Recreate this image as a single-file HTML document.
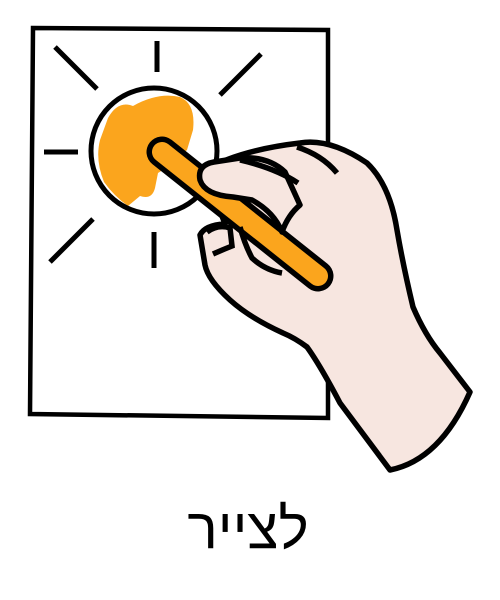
<!DOCTYPE html>
<html><head><meta charset="utf-8"><style>
html,body{margin:0;padding:0;background:#fff;width:500px;height:600px;overflow:hidden}
svg{display:block}
</style></head><body>
<svg width="500" height="600" viewBox="0 0 500 600">
<polygon points="33,28 328,30 328,418 30,414" fill="#fff" stroke="#000" stroke-width="4.5"/>
<g stroke="#000" stroke-width="5">
<line x1="157" y1="41" x2="157" y2="72"/>
<line x1="44" y1="152" x2="78" y2="152"/>
<line x1="154" y1="232" x2="154" y2="268"/>
<line x1="55" y1="47" x2="97" y2="89"/>
<line x1="261" y1="54" x2="220" y2="95"/>
<line x1="50" y1="262" x2="93" y2="219"/>
</g>
<path fill="#FBA51D" d="M108,118 Q118,100 133,106 Q158,92 180,97 Q196,104 193,130 L187,150 Q172,165 158,173 L155,188 Q152,200 140,196 L128,206 Q114,196 104,182 Q95,160 100,140 Z"/>
<circle cx="154" cy="151" r="63" fill="none" stroke="#000" stroke-width="5"/>
<path fill="#F7E6E0" stroke="#000" stroke-width="5.5" stroke-linejoin="round"
d="M205,170 Q240,150 300,143 Q330,138 367,163 Q390,185 397,230 Q403,265 413,307 Q425,335 440,353 L470,392 Q440,460 390,470 L340,403 Q320,365 307,347 Q295,338 283,333 Q250,318 230,300 Q208,280 205,265 L200,235 Q205,225 225,224 Z"/>
<g>
<line x1="162" y1="152" x2="318" y2="276" stroke="#000" stroke-width="31" stroke-linecap="round"/>
<line x1="162" y1="152" x2="318" y2="276" stroke="#FBA51D" stroke-width="20" stroke-linecap="round"/>
</g>
<path fill="#F7E6E0" stroke="#000" stroke-width="5.5" stroke-linejoin="round"
d="M200,180 Q197,165 214,162 L240,158 Q268,156 285,172 L300,205 Q288,215 282,232 Q274,212 252,200 L233,197 Q205,195 200,180 Z"/>
<g fill="none" stroke="#000" stroke-width="5.5">
<path d="M240,160 Q275,168 298,183"/>
<path d="M297,147 Q322,155 337,173"/>
<path d="M240,227 Q245,245 252,258 Q265,270 282,273"/>
<path d="M207,232 Q218,224 230,228 L232,246 Q222,250 213,254"/>
</g>
<text x="248" y="548" text-anchor="middle" font-family="'Liberation Sans','DejaVu Sans',sans-serif" font-size="57" fill="#000" direction="rtl">לצייר</text>
</svg>
</body></html>
